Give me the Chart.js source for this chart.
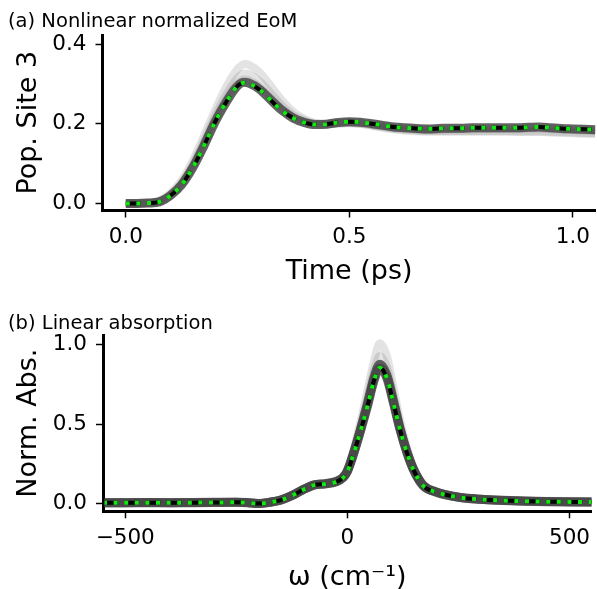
<!DOCTYPE html>
<html><head><meta charset="utf-8">
<script src="https://cdn.jsdelivr.net/npm/chart.js@4/dist/chart.umd.min.js"></script>
<style>
html,body{margin:0;padding:0;background:#fff;overflow:hidden;width:597px;height:589px;}
.wrap{position:absolute;left:0;width:597px;height:300px;}
.ptitle{position:absolute;left:8px;font-family:"DejaVu Sans",sans-serif;font-size:19.5px;line-height:19px;color:#000;white-space:nowrap;}
</style></head><body>
<div class="wrap" style="top:0"><canvas id="c1" width="597" height="300"></canvas></div>
<div class="wrap" style="top:300px"><canvas id="c2" width="597" height="300"></canvas></div>
<div class="ptitle" style="top:11px">(a) Nonlinear normalized EoM</div>
<div class="ptitle" style="top:313px">(b) Linear absorption</div>
<script>
// ---------- Panel (a): population of site 3 vs time ----------
const timePs = [0,0.025,0.05,0.075,0.1,0.125,0.15,0.175,0.2,0.225,0.25,0.265,0.275,0.3,0.325,0.35,0.375,0.4,0.425,0.45,0.475,0.5,0.525,0.55,0.575,0.6,0.625,0.65,0.675,0.7,0.725,0.75,0.775,0.8,0.825,0.85,0.875,0.9,0.925,0.95,0.975,1.0,1.025,1.05];
const popMean = [0,0,0.001,0.004,0.02,0.047,0.09,0.145,0.205,0.255,0.295,0.303,0.301,0.285,0.258,0.232,0.214,0.203,0.198,0.199,0.203,0.205,0.204,0.2,0.196,0.192,0.19,0.188,0.187,0.188,0.189,0.189,0.19,0.19,0.19,0.19,0.19,0.191,0.192,0.19,0.188,0.187,0.186,0.185];
const popNonlinear = [0,0,0.001,0.004,0.02,0.047,0.09,0.145,0.205,0.255,0.295,0.303,0.301,0.285,0.258,0.232,0.214,0.203,0.198,0.199,0.203,0.205,0.204,0.2,0.196,0.192,0.19,0.188,0.187,0.188,0.189,0.189,0.19,0.19,0.19,0.19,0.19,0.191,0.192,0.19,0.188,0.187,0.186,0.185];
const popDark = [0,0,0.001,0.004,0.02,0.047,0.09,0.145,0.205,0.255,0.295,0.304,0.302,0.286,0.259,0.233,0.214,0.203,0.198,0.199,0.203,0.205,0.204,0.2,0.196,0.192,0.19,0.188,0.187,0.188,0.189,0.189,0.19,0.19,0.19,0.19,0.19,0.191,0.192,0.19,0.188,0.187,0.186,0.185];
const popGrayA = [0,0,0.002,0.007,0.026,0.058,0.108,0.17,0.235,0.293,0.337,0.35,0.348,0.328,0.294,0.258,0.23,0.212,0.202,0.2,0.201,0.202,0.2,0.196,0.191,0.187,0.185,0.183,0.182,0.182,0.182,0.182,0.182,0.182,0.182,0.182,0.181,0.181,0.181,0.18,0.179,0.178,0.177,0.176];
const popGrayB = [0,0,0.001,0.006,0.023,0.052,0.099,0.157,0.22,0.274,0.315,0.326,0.324,0.306,0.276,0.245,0.222,0.208,0.2,0.2,0.202,0.204,0.202,0.198,0.194,0.19,0.188,0.186,0.185,0.185,0.186,0.186,0.186,0.187,0.187,0.187,0.187,0.188,0.188,0.187,0.185,0.184,0.183,0.182];
const popGrayC = [0,0,0.001,0.005,0.021,0.049,0.093,0.15,0.211,0.262,0.302,0.311,0.309,0.292,0.264,0.237,0.217,0.205,0.198,0.198,0.2,0.201,0.199,0.195,0.19,0.186,0.183,0.181,0.18,0.18,0.18,0.18,0.18,0.18,0.18,0.18,0.179,0.179,0.179,0.178,0.177,0.176,0.175,0.174];
const popXTicks = [0, 0.5, 1.0];
const popXLabels = ['0.0', '0.5', '1.0'];
const popYTicks = [0, 0.2, 0.4];
const popYLabels = ['0.0', '0.2', '0.4'];

// ---------- Panel (b): linear absorption spectrum ----------
const omega = [-550,-500,-450,-400,-350,-300,-250,-225,-200,-175,-150,-125,-100,-75,-50,-25,-10,0,15,30,45,60,73,89,104,119,134,149,171,200,250,300,350,400,450,500,550];
const absMean = [0.003,0.003,0.004,0.003,0.004,0.005,0.006,0.004,-0.002,0.006,0.02,0.048,0.085,0.115,0.122,0.135,0.16,0.2,0.32,0.46,0.61,0.775,0.856,0.79,0.63,0.46,0.32,0.21,0.11,0.07,0.038,0.025,0.018,0.013,0.01,0.009,0.008];
const absNonlinear = [0.003,0.003,0.004,0.003,0.004,0.005,0.006,0.004,-0.002,0.006,0.02,0.048,0.085,0.115,0.122,0.135,0.16,0.2,0.32,0.46,0.61,0.775,0.856,0.79,0.63,0.46,0.32,0.21,0.11,0.07,0.038,0.025,0.018,0.013,0.01,0.009,0.008];
const absDark = [0.004,0.004,0.005,0.004,0.005,0.006,0.007,0.005,-0.001,0.007,0.021,0.049,0.086,0.116,0.124,0.138,0.163,0.205,0.328,0.472,0.627,0.795,0.878,0.81,0.645,0.47,0.327,0.215,0.113,0.072,0.039,0.026,0.019,0.014,0.011,0.01,0.009];
const absGrayA = [0.006,0.006,0.007,0.006,0.007,0.008,0.009,0.007,0.002,0.008,0.022,0.05,0.088,0.118,0.126,0.145,0.17,0.215,0.35,0.52,0.71,0.9,1.01,0.93,0.73,0.52,0.355,0.23,0.12,0.075,0.042,0.028,0.02,0.015,0.012,0.011,0.01];
const absGrayB = [0.002,0.002,0.003,0.002,0.003,0.004,0.005,0.003,-0.003,0.005,0.019,0.047,0.086,0.116,0.124,0.142,0.165,0.207,0.335,0.49,0.66,0.84,0.93,0.86,0.68,0.49,0.338,0.22,0.115,0.072,0.04,0.026,0.019,0.014,0.011,0.01,0.009];
const absXTicks = [-500, 0, 500];
const absXLabels = ['\u2212500', '0', '500'];
const absYTicks = [0, 0.5, 1.0];
const absYLabels = ['0.0', '0.5', '1.0'];

const F = "'DejaVu Sans', sans-serif";

function pts(xs, ys) { return xs.map((x, i) => ({x: x, y: ys[i]})); }

function line(xs, ys, color, width, dash) {
  return {
    data: pts(xs, ys), borderColor: color, borderWidth: width, borderDash: dash || [],
    pointRadius: 0, fill: false, cubicInterpolationMode: 'monotone',
    borderJoinStyle: 'round', clip: {left: -1.5, right: 0, top: 20, bottom: 20}
  };
}

function sets(xs, nonlin, mean, darks, grays) {
  const out = [];
  out.push(line(xs, nonlin, '#14e614', 4, [4, 6.6]));
  out.push(line(xs, mean, '#000000', 4, [14.8, 6.4]));
  darks.forEach(d => out.push(line(xs, d, 'rgba(70,70,70,0.85)', 9)));
  grays.forEach(g => out.push(line(xs, g, 'rgba(0,0,0,0.11)', 8)));
  return out;
}

function axes(o) {
  const grid = {display: true, drawOnChartArea: false, drawTicks: true, tickLength: 7, tickWidth: 1.5, tickColor: '#000', color: '#000'};
  const border = {display: true, color: '#000', width: 3};
  return {
    x: {
      type: 'linear', min: o.xmin, max: o.xmax,
      afterFit: s => { s.height = o.xh; },
      afterBuildTicks: s => { s.ticks = o.xt.map(v => ({value: v})); },
      ticks: {callback: v => o.xl[o.xt.indexOf(v)], font: {family: F, size: 21.5}, color: '#000', padding: 7, maxRotation: 0, autoSkip: false},
      grid: grid, border: border,
      title: {display: true, text: o.xtitle, font: {family: F, size: 27}, color: '#000', padding: {top: 0, bottom: o.xtpb}}
    },
    y: {
      type: 'linear', min: o.ymin, max: o.ymax,
      afterFit: s => { s.width = o.yw; },
      afterBuildTicks: s => { s.ticks = o.yt.map(v => ({value: v})); },
      ticks: {callback: v => o.yl[o.yt.indexOf(v)], font: {family: F, size: 21.5}, color: '#000', padding: 9, autoSkip: false},
      grid: grid, border: border,
      title: {display: true, text: o.ytitle, font: {family: F, size: 27}, color: '#000', padding: {top: 13, bottom: 0}}
    }
  };
}

const common = {
  responsive: false, animation: false, devicePixelRatio: 1,
  plugins: {legend: {display: false}, tooltip: {enabled: false}, title: {display: false}},
  elements: {line: {tension: 0.4}}
};

new Chart(document.getElementById('c1'), {
  type: 'line',
  data: {datasets: sets(timePs, popNonlinear, popMean, [popDark], [popGrayA, popGrayB, popGrayC])},
  options: Object.assign({}, common, {
    layout: {padding: {top: 35, left: 0, right: 0, bottom: 0}},
    scales: axes({xmin: -0.052, xmax: 1.051, xh: 89.5, xt: popXTicks, xl: popXLabels, xtitle: 'Time (ps)', xtpb: 12,
                  ymin: -0.0176, ymax: 0.4226, yw: 102.5, yt: popYTicks, yl: popYLabels, ytitle: 'Pop. Site 3'})
  })
});

new Chart(document.getElementById('c2'), {
  type: 'line',
  data: {datasets: sets(omega, absNonlinear, absMean, [absDark, absMean], [absGrayA, absGrayB])},
  options: Object.assign({}, common, {
    layout: {padding: {top: 35, left: 0, right: 0, bottom: 0}},
    scales: axes({xmin: -550, xmax: 550, xh: 88.7, xt: absXTicks, xl: absXLabels, xtitle: '\u03c9 (cm\u207b\u00b9)', xtpb: 6,
                  ymin: -0.0505, ymax: 1.0625, yw: 103, yt: absYTicks, yl: absYLabels, ytitle: 'Norm. Abs.'})
  })
});
</script>
</body></html>
